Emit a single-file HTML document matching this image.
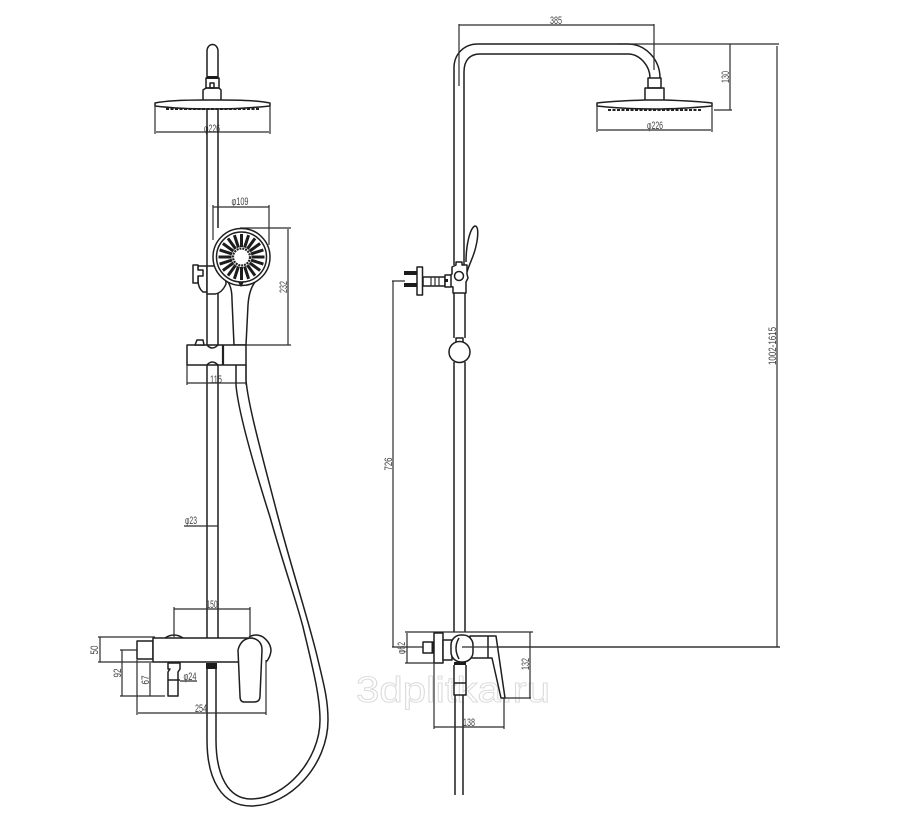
<!DOCTYPE html>
<html>
<head>
<meta charset="utf-8">
<style>
html,body{margin:0;padding:0;background:#fff;width:907px;height:827px;overflow:hidden}
svg{display:block;filter:blur(0.35px)}
.l{fill:none;stroke:#1f1f1f;stroke-width:1.5;stroke-linejoin:round}
.d{fill:none;stroke:#2c2c2c;stroke-width:1.2}
.k{fill:#1c1c1c;stroke:none}
.w{fill:#fff;stroke:#1f1f1f;stroke-width:1.5;stroke-linejoin:round}
text{font-family:"Liberation Sans",sans-serif;font-size:11px;fill:#444;text-anchor:middle}
.wm{font-size:36px;fill:#fff;stroke:#dcdcdc;stroke-width:1;text-anchor:start}
</style>
</head>
<body>
<svg width="907" height="827" viewBox="0 0 907 827" xmlns="http://www.w3.org/2000/svg">
<!-- watermark -->
<text class="wm" x="356" y="702" textLength="194" lengthAdjust="spacingAndGlyphs">3dplitka.ru</text>

<!-- LEFT VIEW: head -->
<path class="l" d="M207 78V51a5.500 6.500 0 0 1 11 0V78"/>
<path class="l" d="M206 78H219V88H206Z"/>
<rect class="k" x="207" y="76" width="11" height="3"/>
<path class="l" d="M203 100V90L206 88H219L221 90V100"/>
<rect class="l" x="210" y="83" width="4" height="5"/>
<path class="w" d="M155 103Q170 100 203 100H221Q255 100 270 103V106Q240 109 212 109Q180 109 155 106Z"/>
<path d="M166 109H260" stroke="#222" stroke-width="2" stroke-dasharray="3 1.500" fill="none"/>
<path class="d" d="M155 104V134M270 104V134M156 132H269"/>
<text x="212" y="132" textLength="16" lengthAdjust="spacingAndGlyphs">φ226</text>
<!-- rail -->
<path class="l" d="M207 109V345M218 109V228M218 275V345M207 365V640M218 365V638"/>

<!-- dim hand shower -->
<path class="d" d="M213 205V240M269 205V245M213 207H269M240 228H291M245 345H291M288 229V345"/>
<text x="240" y="205" textLength="17" lengthAdjust="spacingAndGlyphs">φ109</text>
<text transform="translate(287 287) rotate(-90)" textLength="12" lengthAdjust="spacingAndGlyphs">232</text>

<!-- bracket at hand shower -->
<path class="w" d="M198 266H207V292H203Q198 288 198 280Z"/>
<path class="w" d="M207 266H218Q226 272 226 284Q222 293 215 294H207Z"/>
<path class="w" d="M193 265H198V270H203V276H198V283H193Z"/>
<!-- handle -->
<path class="w" d="M227 281Q232 286 232 300L234 345H246L248 305Q249 290 255 282"/>
<!-- head circle -->
<circle class="w" cx="241.500" cy="257" r="28.500"/>
<circle class="l" cx="241.500" cy="257" r="25"/>
<g stroke="#1c1c1c" stroke-width="3" fill="none">
<g id="sp"><path d="M241.500 247V234"/></g>
<use href="#sp" transform="rotate(18 241.500 257)"/>
<use href="#sp" transform="rotate(36 241.500 257)"/>
<use href="#sp" transform="rotate(54 241.500 257)"/>
<use href="#sp" transform="rotate(72 241.500 257)"/>
<use href="#sp" transform="rotate(90 241.500 257)"/>
<use href="#sp" transform="rotate(108 241.500 257)"/>
<use href="#sp" transform="rotate(126 241.500 257)"/>
<use href="#sp" transform="rotate(144 241.500 257)"/>
<use href="#sp" transform="rotate(162 241.500 257)"/>
<use href="#sp" transform="rotate(180 241.500 257)"/>
<use href="#sp" transform="rotate(198 241.500 257)"/>
<use href="#sp" transform="rotate(216 241.500 257)"/>
<use href="#sp" transform="rotate(234 241.500 257)"/>
<use href="#sp" transform="rotate(252 241.500 257)"/>
<use href="#sp" transform="rotate(270 241.500 257)"/>
<use href="#sp" transform="rotate(288 241.500 257)"/>
<use href="#sp" transform="rotate(306 241.500 257)"/>
<use href="#sp" transform="rotate(324 241.500 257)"/>
<use href="#sp" transform="rotate(342 241.500 257)"/>
</g>
<circle cx="241.500" cy="257" r="8.500" fill="none" stroke="#222" stroke-width="2.200" stroke-dasharray="2 .9"/>
<circle cx="241.500" cy="257" r="5" fill="#fff"/>
<path class="k" d="M238 282H244L241 287Z"/>

<!-- slider clamp -->
<path class="w" d="M187 345H246V365H187Z"/>
<path class="w" d="M195 345L197 340H203L204 345Z"/>
<path d="M223 345V365" stroke="#222" stroke-width="2.200"/>
<path class="l" d="M207 345Q212 351 218 345M207 365Q212 359 218 365"/>
<path class="d" d="M187 365V385M246 365V385M187 383H246"/>
<text x="216" y="383" textLength="12" lengthAdjust="spacingAndGlyphs">115</text>
<text x="191" y="524" textLength="12" lengthAdjust="spacingAndGlyphs">φ23</text>
<path class="d" d="M184 526H218"/>

<!-- hose -->
<path class="l" d="M246 365V380C248 405 262 455 277 513C292 570 310 625 318 660C324 685 328 700 328 720C328 765 290 806 251 806C222 806 207 780 207 740V669"/>
<path class="l" d="M236 365V385C238 410 252 460 270 517C285 570 296 600 303 627C312 665 320 695 320 720C320 760 285 799 251 799C228 799 216 775 216 740V669"/>

<!-- faucet left -->
<path class="w" d="M137 641H153V659H137Z"/>
<path class="l" d="M165 638Q174 632 183 638"/>
<path class="l" d="M249 637Q256 633 263 637Q271 643 271 651Q270 658 266 662"/>
<path class="w" d="M153 638H250V662H153Z"/>
<rect class="k" x="206" y="663" width="11" height="6"/>
<path class="w" d="M168 663H180V669L178 672V696H168V672L170 669H168Z"/>
<path class="l" d="M168 680H180"/>
<path class="w" d="M238 650Q241 638 252 638Q262 640 262 650L260 696Q260 702 254 702H244Q240 702 240 696Z"/>
<!-- faucet dims -->
<path class="d" d="M174 607V637M250 607V637M174 609H250"/>
<text x="212" y="608" textLength="11" lengthAdjust="spacingAndGlyphs">150</text>
<path class="d" d="M98 637H155M98 662H153M100 637V662"/>
<text transform="translate(98 650) rotate(-90)" textLength="9" lengthAdjust="spacingAndGlyphs">50</text>
<path class="d" d="M120 650H137M120 696H165M122 650V696"/>
<text transform="translate(121 673) rotate(-90)" textLength="9" lengthAdjust="spacingAndGlyphs">92</text>
<path class="d" d="M150 663V696"/>
<text transform="translate(149 680) rotate(-90)" textLength="9" lengthAdjust="spacingAndGlyphs">67</text>
<path class="d" d="M180 681H197"/>
<text x="190" y="680" textLength="13" lengthAdjust="spacingAndGlyphs">φ24</text>
<path class="d" d="M137 660V715M266 660V715M138 713H266"/>
<text x="201" y="712" textLength="12" lengthAdjust="spacingAndGlyphs">254</text>

<!-- RIGHT VIEW -->
<path class="l" d="M454 265V68C454 54 464 44 478 44H628C646 44 660 60 660 78"/>
<path class="l" d="M464 265V72C464 60 470 54 480 54H628C640 54 650 66 650 78"/>
<path class="l" d="M648 78H661V88H648Z"/>
<path class="l" d="M645 100V88H664V100"/>
<path class="w" d="M597 103Q615 101 645 100H664Q695 101 712 103V106Q680 109 655 109Q625 109 597 106Z"/>
<path d="M608 110H702" stroke="#222" stroke-width="2" stroke-dasharray="3 1.500" fill="none"/>
<path class="d" d="M597 106V132M712 106V132M598 130H711"/>
<text x="655" y="129" textLength="16" lengthAdjust="spacingAndGlyphs">φ226</text>
<path class="d" d="M459 24V86M654 24V70M459 25H654"/>
<text x="556" y="24" textLength="12" lengthAdjust="spacingAndGlyphs">385</text>
<path class="d" d="M618 44H779M707 44H732M730 44V110M714 110H732M777 46V647M470 647H780"/>
<text transform="translate(729 77) rotate(-90)" textLength="12" lengthAdjust="spacingAndGlyphs">130</text>
<text transform="translate(776 346) rotate(-90)" textLength="38" lengthAdjust="spacingAndGlyphs">1002-1615</text>

<!-- right rail -->
<path class="l" d="M454 293V338M465 293V338M454 362V632M465 362V632"/>
<!-- side handshower -->
<path class="l" d="M466 262C466 245 470 228 475 226C479 226 478 238 476 246C474 256 470 262 467 272"/>
<!-- slider side -->
<path class="w" d="M452 267L456 265V262H462V265H467V274L468 278L466 282V293H453V287L449 286V276L452 274Z"/>
<circle class="w" cx="459" cy="276" r="4.500"/>
<rect class="w" x="423" y="277" width="22" height="9"/>
<path class="d" d="M431 277V286M435 277V286M439 277V286"/>
<rect class="w" x="445" y="275" width="6" height="12"/>
<rect class="k" x="445" y="279" width="3" height="3"/>
<rect class="w" x="417" y="267" width="5.500" height="28"/>
<rect class="k" x="404" y="271" width="13" height="4"/>
<rect class="k" x="404" y="283" width="13" height="4"/>
<path class="d" d="M392 281H405M393 281V647M392 647H423"/>
<text transform="translate(392 464) rotate(-90)" textLength="13" lengthAdjust="spacingAndGlyphs">726</text>
<!-- ball -->
<rect class="w" x="456" y="338" width="7" height="4"/>
<circle class="w" cx="459.500" cy="352" r="10.500"/>

<!-- right valve -->
<path class="d" d="M405 632H533M405 663H434M407 633V663"/>
<text transform="translate(405 648) rotate(-90)" textLength="12" lengthAdjust="spacingAndGlyphs">φ62</text>
<rect class="w" x="434" y="633" width="9" height="30"/>
<rect class="w" x="423" y="642" width="10" height="11"/>
<rect class="k" x="431.500" y="642" width="2" height="11"/>
<path class="w" d="M443 640H452V660H443Z"/>
<path class="w" d="M470 636H488L496 636L505 698H501L492 658H470Z"/>
<path class="l" d="M488 636V658"/>
<rect class="w" x="451" y="635" width="22" height="27" rx="10"/>
<path class="l" d="M459 638Q453 648 459 659"/>
<path class="d" d="M462 647H780"/>
<path class="d" d="M503 698H531M530 632V698"/>
<text transform="translate(529 664) rotate(-90)" textLength="12" lengthAdjust="spacingAndGlyphs">132</text>
<rect class="k" x="454" y="662" width="12" height="3"/>
<path class="l" d="M454 665V695H466V665"/>
<path class="l" d="M454 683H466"/>
<path class="l" d="M455 695V795M463 695V795"/>
<path class="d" d="M434 663V729M504 698V729M434 727H504"/>
<text x="469" y="726" textLength="12" lengthAdjust="spacingAndGlyphs">138</text>
</svg>
</body>
</html>
